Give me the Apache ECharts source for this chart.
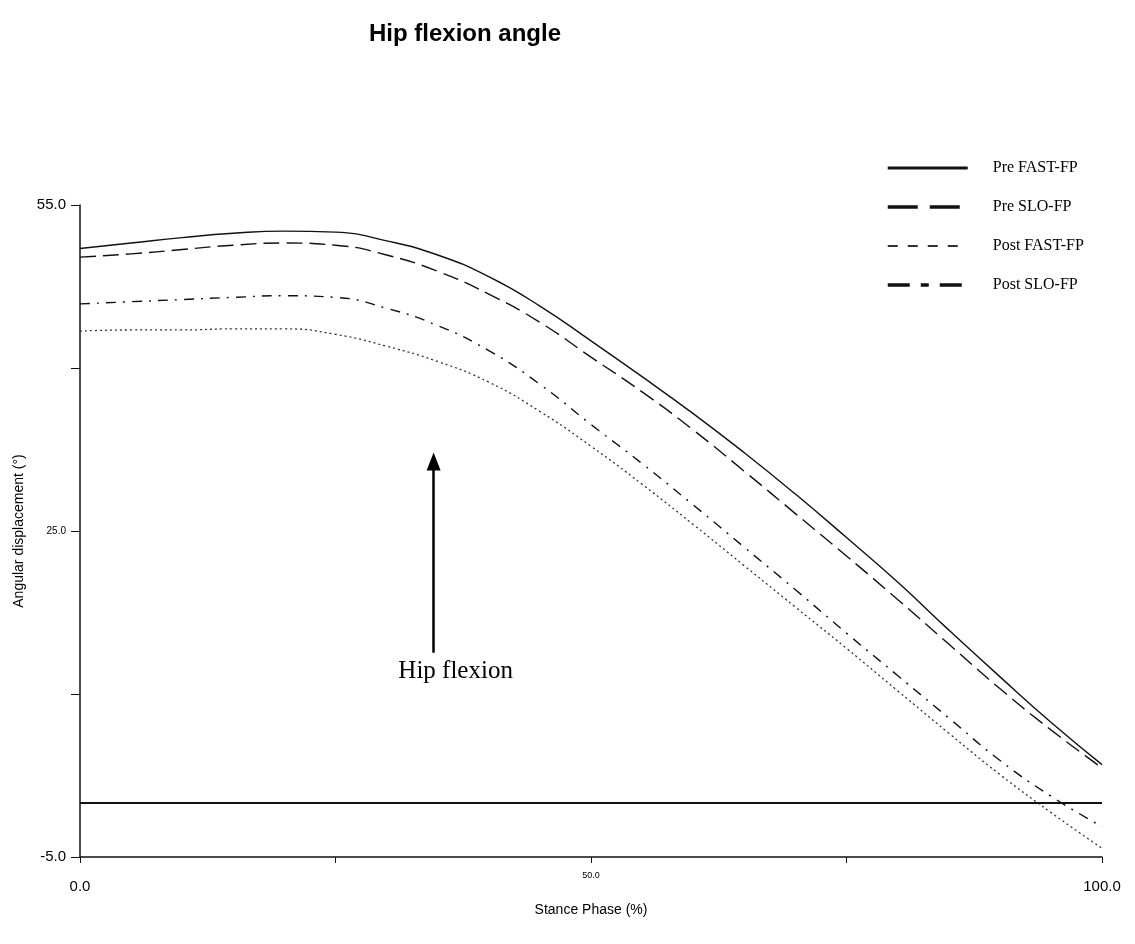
<!DOCTYPE html>
<html>
<head>
<meta charset="utf-8">
<title>Hip flexion angle</title>
<script src="https://cdn.jsdelivr.net/npm/echarts@6/dist/echarts.min.js"></script>
<style>
  html, body { margin: 0; padding: 0; background: #fff; }
  #main { width: 1135px; height: 944px; }
</style>
</head>
<body>
<div id="main"></div>
<script>
// stance phase (%) sample points
var phase = [0, 5, 10, 15, 20, 25, 30, 35, 40, 45, 50, 55, 60, 65, 70, 75, 80, 85, 90, 95, 100];

// hip angle (deg)
var preFast  = [51.0, 51.5, 52.0, 52.4, 52.6, 52.5, 51.7, 50.4, 48.4, 45.7, 42.5, 39.2, 35.8, 32.2, 28.4, 24.4, 20.3, 15.9, 11.6, 7.4, 3.5];
var preSlo   = [50.2, 50.5, 50.9, 51.3, 51.5, 51.3, 50.4, 48.9, 46.8, 44.2, 41.0, 37.8, 34.3, 30.5, 26.6, 22.7, 18.7, 14.6, 10.5, 6.7, 3.2];
var postSlo  = [45.9, 46.1, 46.3, 46.5, 46.65, 46.5, 45.5, 43.9, 41.6, 38.5, 34.8, 31.2, 27.4, 23.5, 19.6, 15.6, 11.7, 7.8, 3.9, 0.6, -2.2];
var postFast = [43.4, 43.5, 43.5, 43.6, 43.6, 43.1, 42.0, 40.6, 38.7, 36.0, 32.8, 29.3, 25.6, 21.8, 18.0, 14.2, 10.3, 6.4, 2.6, -0.9, -4.2];

var yTicks = [-5, 10, 25, 40, 55];
var yLabels = [-5, 25, 55];
var xTicks = [0, 25, 50, 75, 100];
var xLabels = [0, 50, 100];

function pairs(ys) {
  return phase.map(function (x, i) { return [x, ys[i]]; });
}

var ink = '#111';
var noDot = { color: 'rgba(0,0,0,0)', borderWidth: 0 };

var chart = echarts.init(document.getElementById('main'));
chart.setOption({
  animation: false,
  title: {
    text: 'Hip flexion angle',
    left: 364,
    top: 17,
    textStyle: { fontFamily: 'Liberation Sans, Arial', fontSize: 24, fontWeight: 'bold', color: '#000' }
  },
  legend: {
    orient: 'vertical',
    left: 881,
    top: 155,
    itemWidth: 80,
    itemHeight: 14,
    itemGap: 23,
    textStyle: { fontFamily: 'Liberation Serif, Times New Roman', fontSize: 16, color: '#000', padding: [0, 0, 0, 20] },
    data: [
      { name: 'Pre FAST-FP', itemStyle: noDot, lineStyle: { width: 3, type: 'solid' } },
      { name: 'Pre SLO-FP', itemStyle: noDot, lineStyle: { width: 3.5, type: [30, 12] } },
      { name: 'Post FAST-FP', itemStyle: noDot, lineStyle: { width: 2, type: [10, 10] } },
      { name: 'Post SLO-FP', itemStyle: noDot, lineStyle: { width: 3.5, type: [22, 11, 8, 11] } }
    ]
  },
  grid: { left: 80, right: 33, top: 205, bottom: 87 },
  xAxis: {
    type: 'value',
    min: 0,
    max: 100,
    name: 'Stance Phase (%)',
    nameLocation: 'middle',
    nameGap: 46,
    nameTextStyle: { fontFamily: 'Liberation Sans, Arial', fontSize: 14, color: '#000' },
    axisLine: { onZero: false, lineStyle: { color: ink, width: 1.5 } },
    axisTick: { customValues: xTicks, length: 6, lineStyle: { color: ink } },
    splitLine: { show: false },
    axisLabel: {
      customValues: xLabels,
      margin: 10,
      formatter: function (v) { return v === 50 ? '{s|' + v.toFixed(1) + '}' : '{b|' + v.toFixed(1) + '}'; },
      rich: {
        b: { fontFamily: 'Liberation Sans, Arial', fontSize: 15, color: '#000', padding: [12, 0, 0, 0] },
        s: { fontFamily: 'Liberation Sans, Arial', fontSize: 9, color: '#000', padding: [4, 0, 0, 0] }
      }
    }
  },
  yAxis: {
    type: 'value',
    min: -5,
    max: 55,
    name: 'Angular displacement (°)',
    nameLocation: 'middle',
    nameGap: 46,
    nameTextStyle: { fontFamily: 'Liberation Sans, Arial', fontSize: 14, color: '#000' },
    axisLine: { show: true, onZero: false, lineStyle: { color: ink, width: 1.5 } },
    axisTick: { show: true, customValues: yTicks, length: 9, lineStyle: { color: ink } },
    splitLine: { show: false },
    axisLabel: {
      customValues: yLabels,
      margin: 14,
      formatter: function (v) { return v === 25 ? '{s|' + v.toFixed(1) + '}' : '{b|' + v.toFixed(1) + '}'; },
      rich: {
        b: { fontFamily: 'Liberation Sans, Arial', fontSize: 15, color: '#000' },
        s: { fontFamily: 'Liberation Sans, Arial', fontSize: 10, color: '#000' }
      }
    }
  },
  series: [
    {
      name: 'Pre FAST-FP', type: 'line', smooth: true, symbol: 'none',
      data: pairs(preFast),
      lineStyle: { color: ink, width: 1.4, type: 'solid' },
      itemStyle: { color: ink },
      markLine: {
        silent: true,
        symbol: 'none',
        label: { show: false },
        lineStyle: { color: ink, width: 2, type: 'solid' },
        data: [{ yAxis: 0 }]
      }
    },
    {
      name: 'Pre SLO-FP', type: 'line', smooth: true, symbol: 'none',
      data: pairs(preSlo),
      lineStyle: { color: ink, width: 1.4, type: [16, 7] },
      itemStyle: { color: ink }
    },
    {
      name: 'Post FAST-FP', type: 'line', smooth: true, symbol: 'none',
      data: pairs(postFast),
      lineStyle: { color: '#333', width: 1.3, type: [2, 3] },
      itemStyle: { color: ink }
    },
    {
      name: 'Post SLO-FP', type: 'line', smooth: true, symbol: 'none',
      data: pairs(postSlo),
      lineStyle: { color: ink, width: 1.4, type: [10, 7, 2, 7] },
      itemStyle: { color: ink },
      markLine: {
        silent: true,
        symbol: ['none', 'triangle'],
        symbolSize: [14, 18],
        lineStyle: { color: '#000', width: 2.5, type: 'solid' },
        label: {
          show: true,
          position: 'start',
          distance: 6,
          offset: [22, 0],
          formatter: 'Hip flexion',
          fontFamily: 'Liberation Serif, Times New Roman',
          fontSize: 25,
          color: '#000'
        },
        data: [[{ coord: [34.6, 13.8] }, { coord: [34.6, 31.4] }]]
      }
    }
  ]
});
</script>
</body>
</html>
